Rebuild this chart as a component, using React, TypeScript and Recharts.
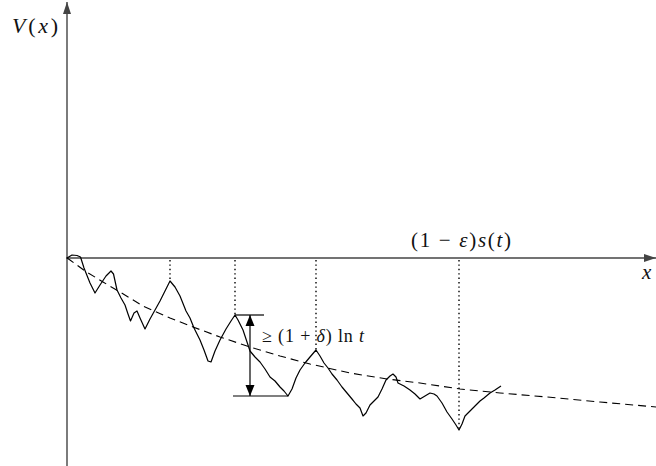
import React from 'react';
import { ComposedChart, Line, XAxis, YAxis, ReferenceLine, ReferenceDot } from 'recharts';

// sample path of the potential V(x)
const walkX = [0, 5, 10, 13.5, 17, 23, 28, 33, 39, 44, 46.5, 50, 54, 58, 61, 63.5, 67, 70, 73, 78, 83, 88, 93, 98, 103, 108, 113, 119, 123, 127, 133, 137, 141, 144, 148, 153, 159, 164, 168, 171, 176, 180, 183, 188, 193, 198, 203, 208, 213, 217, 221, 225, 229, 233, 238, 243, 249, 253, 257, 261, 265, 270, 275, 280, 285, 289, 293, 296, 299, 303, 307, 311, 315, 319, 323, 326, 329, 331, 337, 343, 348, 353, 358, 363, 367, 370, 375, 380, 385, 389, 392, 395, 398, 403, 409, 413, 417, 423, 428, 434];
const walkV = [0, 3, 2.5, 1, -10, -25, -35, -27, -18, -13, -16, -32, -40, -47, -56, -63, -55, -53, -60, -71, -61, -52, -43, -33, -23, -29, -38, -53, -60, -70, -82, -92, -103, -104, -93, -82, -71, -63, -57, -62, -72, -84, -93, -99, -104, -111, -119, -123, -129, -133, -138, -131, -120, -112, -105, -99, -92, -98, -105, -110, -116, -122, -129, -135, -141, -146, -150, -158, -155, -147, -143, -139, -131, -122, -118, -116, -119, -125, -128, -132, -136, -141, -138, -135, -136, -138, -145, -154, -161, -167, -172, -166, -158, -153, -147, -143, -140, -135, -132, -128];

// dashed trend curve
const trendX = [0, 3, 18, 36, 53, 76, 103, 126, 153, 183, 213, 243, 283, 320, 353, 393, 433, 480, 533, 589];
const trendV = [0, -2, -13, -24, -34, -48, -60, -69, -79, -89, -98, -106, -115, -121, -125, -131, -135, -139, -144, -149];

// local maxima / minimum marked with dotted drops from the axis
const peakX = [103, 168, 249, 392];
const peakV = [-23, -57, -92, -172];

// the gap between the second peak and the following valley
const gapX = 183;
const gapTop = -57;
const gapBottom = -138;

const xDomain = [-67, 589];
const yDomain = [-208, 258];

const walk = walkX.map((x, i) => ({ x, v: walkV[i] }));
const trend = trendX.map((x, i) => ({ x, v: trendV[i] }));

const FONT = 'Liberation Serif, DejaVu Serif, serif';
const INK = '#000';
const AXIS = '#444';

const head = (x: number, y: number, ux: number, uy: number, len: number, half: number) => {
  const bx = x - ux * len;
  const by = y - uy * len;
  const nx = -uy * half;
  const ny = ux * half;
  return `${x},${y} ${bx + nx},${by + ny} ${bx - nx},${by - ny}`;
};

const arrowLine =
  (both: boolean, len: number, half: number, stroke: string, width: number) =>
  (p: any) => {
    const { x1, y1, x2, y2 } = p;
    const d = Math.hypot(x2 - x1, y2 - y1) || 1;
    const ux = (x2 - x1) / d;
    const uy = (y2 - y1) / d;
    return (
      <g>
        <line x1={x1} y1={y1} x2={x2} y2={y2} stroke={stroke} strokeWidth={width} />
        <polygon points={head(x2, y2, ux, uy, len, half)} fill={stroke} />
        {both && <polygon points={head(x1, y1, -ux, -uy, len, half)} fill={stroke} />}
      </g>
    );
  };

type Part = [string, boolean];

const mathText = (parts: Part[], size: number, width: number) => (p: any) =>
  (
    <text
      x={p.cx}
      y={p.cy}
      style={{ fontFamily: FONT, fontSize: size }}
      textLength={width}
      lengthAdjust="spacing"
      fill="#111"
    >
      {parts.map(([s, it], i) => (
        <tspan key={i} style={{ fontStyle: it ? 'italic' : 'normal' }}>
          {s}
        </tspan>
      ))}
    </text>
  );

const yLabel: Part[] = [['V', true], ['(', false], ['x', true], [')', false]];
const xLabel: Part[] = [['x', true]];
const stLabel: Part[] = [['(1 − ', false], ['ε', true], [')', false], ['s', true], ['(', false], ['t', true], [')', false]];
const gapLabel: Part[] = [['≥ (1 + ', false], ['δ', true], [') ln ', false], ['t', true]];

export default function App() {
  return (
    <div style={{ position: 'absolute', left: 0, top: 0, background: '#fff' }}>
      <ComposedChart width={656} height={466} margin={{ top: 0, right: 0, bottom: 0, left: 0 }}>
        <XAxis type="number" dataKey="x" domain={xDomain} hide allowDataOverflow />
        <YAxis type="number" domain={yDomain} hide allowDataOverflow />

        {/* axes with arrow heads */}
        <ReferenceLine
          segment={[{ x: -1, y: 0 }, { x: 589, y: 0 }]}
          ifOverflow="visible"
          shape={arrowLine(false, 12, 4, AXIS, 1.4)}
        />
        <ReferenceLine
          segment={[{ x: 0, y: -208 }, { x: 0, y: 256 }]}
          ifOverflow="visible"
          shape={arrowLine(false, 12, 4, AXIS, 1.4)}
        />

        {peakX.map((x, i) => (
          <ReferenceLine
            key={x}
            segment={[{ x, y: -2 }, { x, y: peakV[i] }]}
            stroke={INK}
            strokeWidth={1.4}
            strokeDasharray="1.4 3"
          />
        ))}

        <Line
          data={trend}
          dataKey="v"
          type="linear"
          stroke={INK}
          strokeWidth={1.1}
          strokeDasharray="8 5"
          dot={false}
          activeDot={false}
          isAnimationActive={false}
        />
        <Line
          data={walk}
          dataKey="v"
          type="linear"
          stroke={INK}
          strokeWidth={1.2}
          strokeLinejoin="round"
          dot={false}
          activeDot={false}
          isAnimationActive={false}
        />

        {/* bracket for the drop after the second peak */}
        <ReferenceLine segment={[{ x: 168, y: gapTop }, { x: 197, y: gapTop }]} stroke={INK} strokeWidth={1.2} />
        <ReferenceLine segment={[{ x: 166, y: gapBottom }, { x: 221, y: gapBottom }]} stroke={INK} strokeWidth={1.2} />
        <ReferenceLine
          segment={[{ x: gapX, y: gapBottom }, { x: gapX, y: gapTop }]}
          shape={arrowLine(true, 11, 4.5, INK, 1.2)}
        />

        <ReferenceDot x={-55} y={225} r={0} shape={mathText(yLabel, 22, 46)} />
        <ReferenceDot x={575} y={-21} r={0} shape={mathText(xLabel, 21, 10)} />
        <ReferenceDot x={344} y={11} r={0} shape={mathText(stLabel, 21, 100)} />
        <ReferenceDot x={195} y={-84} r={0} shape={mathText(gapLabel, 18, 102)} />
      </ComposedChart>
    </div>
  );
}
